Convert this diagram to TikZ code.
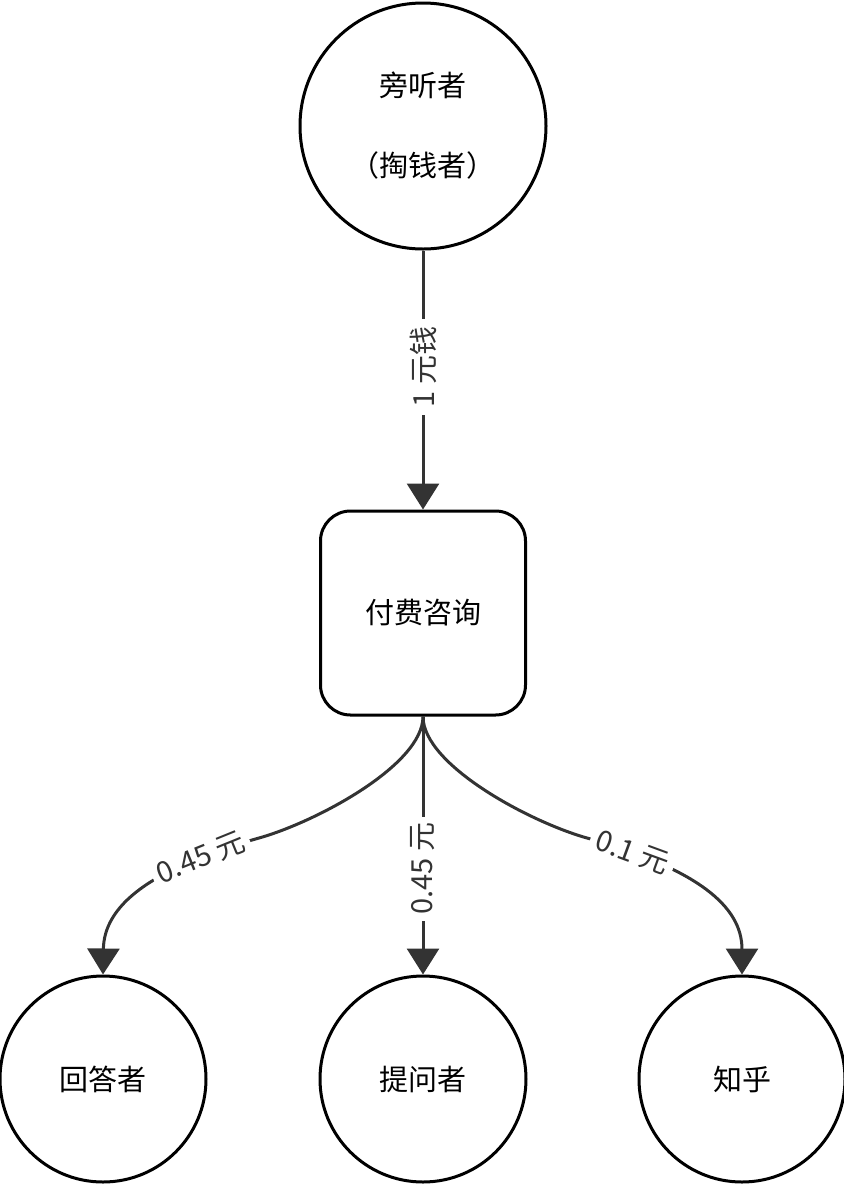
\documentclass[tikz,border=0pt]{standalone}
\usepackage{fontspec}
\setmainfont{Noto Sans CJK SC}
\usetikzlibrary{arrows.meta}
\definecolor{edgegray}{HTML}{333333}

\begin{document}
\begin{tikzpicture}[x=0.5pt,y=-0.5pt,
	party/.style={circle,draw=black,line width=1.5pt,minimum size=#1,inner sep=0pt,
		font=\fontsize{14.5}{20}\selectfont,align=center},
	service/.style={rectangle,rounded corners=15pt,draw=black,line width=1.5pt,
		minimum width=102.5pt,minimum height=102pt,font=\fontsize{14.5}{20}\selectfont},
	flow/.style={draw=edgegray,line width=1.5pt,-{Triangle[width=16pt,length=13pt]}},
	money/.style={fill=white,text=edgegray,font=\fontsize{14.5}{16}\selectfont,
		inner xsep=#1,inner ysep=1pt},
	money/.default=3pt]
	\useasboundingbox (0,0) rectangle (844,1184);

	\node[party=123pt] (payer) at (423,126) {旁听者\\[20pt]（掏钱者）};
	\node[service] (consult) at (423,613) {付费咨询};

	\node[party=103pt] (answerer) at (103,1079) {回答者};
	\node[party=103pt] (asker) at (423,1079) {提问者};
	\node[party=103pt] (zhihu) at (742,1079) {知乎};

	\coordinate (lbend) at (259,838);
	\coordinate (rbend) at (587,838);

	\draw[flow] (payer) -- node[money=4pt,rotate=90,pos=0.45] {1 元钱} (consult);
	\draw[flow] (consult) -- node[money,rotate=90,pos=0.59] {0.45 元} (asker);

	\draw[flow] (consult.south) .. controls (423,765) and (316,822) .. (lbend)
		.. controls (149,869) and (104,906) .. (answerer.north)
		node[money,sloped,pos=0.2] {0.45 元};
	\draw[flow] (consult.south) .. controls (423,765) and (530,822) .. (rbend)
		.. controls (697,869) and (742,906) .. (zhihu.north)
		node[money,sloped,pos=0.15] {0.1 元};
\end{tikzpicture}
\end{document}
